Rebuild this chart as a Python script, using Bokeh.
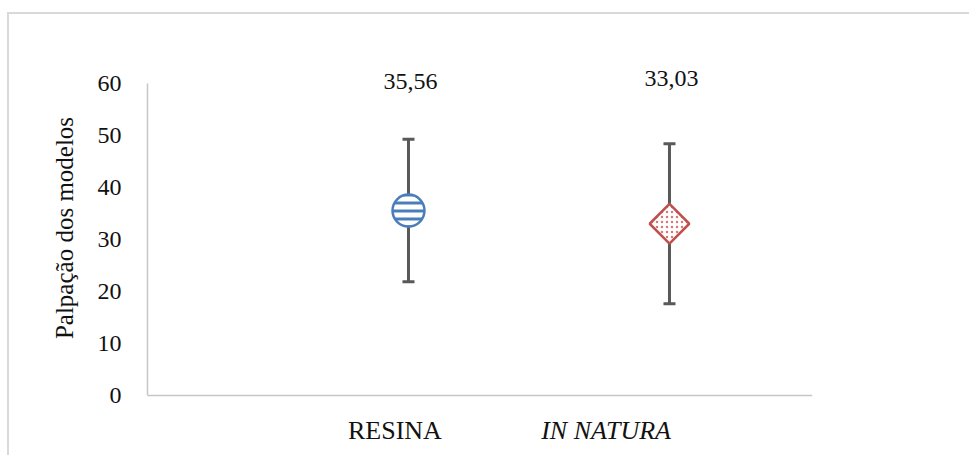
from math import pi

from bokeh.embed import file_html
from bokeh.models import ColumnDataSource, FixedTicker, Label, Range1d, TeeHead, Whisker
from bokeh.plotting import figure
from bokeh.resources import INLINE

# Data: mean palpation score per model type, with standard deviation
groups = ["RESINA", "IN NATURA"]
group_pos = [1, 2]
means = [35.56, 33.03]
sds = [13.7, 15.4]
y_ticks = [0, 10, 20, 30, 40, 50, 60]

FONT = "Liberation Serif"
AXIS_GRAY = "#c6c6c6"
TEXT = "#111111"

# The frame reaches above and below the 0-60 axis so the value labels and
# category names can sit inside it; the axes themselves are bounded.
p = figure(
    width=962,
    height=443,
    x_range=Range1d(0, 2.548),
    y_range=Range1d(-8.846, 73.27),
    output_backend="svg",
    toolbar_location=None,
    min_border_left=138,
    min_border_right=159,
    min_border_top=0,
    min_border_bottom=16,
    background_fill_color="white",
    border_fill_color="white",
    outline_line_color=None,
    margin=(12, 0, 0, 7),
    styles={"border-left": "2px solid #d9d9d9", "border-top": "2px solid #d9d9d9"},
)
p.grid.visible = False

# y axis
yax = p.yaxis[0]
yax.ticker = FixedTicker(ticks=y_ticks)
yax.bounds = (0, 60)
yax.axis_line_color = AXIS_GRAY
yax.axis_line_width = 1.5
yax.major_tick_line_color = None
yax.minor_tick_line_color = None
yax.major_label_standoff = 20
yax.major_label_text_font = FONT
yax.major_label_text_font_size = "24px"
yax.major_label_text_color = TEXT
yax.axis_label = "Palpação dos modelos"
yax.axis_label_text_font = FONT
yax.axis_label_text_font_size = "25px"
yax.axis_label_text_font_style = "normal"
yax.axis_label_text_color = TEXT
yax.axis_label_standoff = 17

# x axis: line at y = 0, names drawn as labels below it
xax = p.xaxis[0]
xax.ticker = FixedTicker(ticks=[])
xax.fixed_location = 0
xax.axis_line_color = AXIS_GRAY
xax.axis_line_width = 1.5
xax.major_tick_line_color = None
xax.minor_tick_line_color = None

lower = [m - s for m, s in zip(means, sds)]
upper = [m + s for m, s in zip(means, sds)]
src = ColumnDataSource(dict(x=group_pos, mean=means, lower=lower, upper=upper))

# error bars
head = TeeHead(size=12, line_color="#595959", line_width=3)
p.add_layout(Whisker(source=src, base="x", lower="lower", upper="upper",
                     dimension="height", line_color="#595959", line_width=3,
                     lower_head=head, upper_head=head, level="underlay"))

# RESINA: striped circle
p.scatter(x=[group_pos[0]], y=[means[0]], marker="circle", size=32,
          fill_color="white", line_color="#4a7ebb", line_width=2.5,
          hatch_pattern="horizontal_line", hatch_color="#4a7ebb",
          hatch_scale=8, hatch_weight=3)

# IN NATURA: dotted diamond
p.scatter(x=[group_pos[1]], y=[means[1]], marker="square", size=28, angle=pi / 4,
          fill_color="white", line_color="#c0504d", line_width=2.5,
          hatch_pattern="dot", hatch_color="#d47a78",
          hatch_scale=5, hatch_weight=3)

# mean value labels at the top
for x, m, ylab in zip(group_pos, means, [58.85, 59.42]):
    p.add_layout(Label(x=x, y=ylab, x_offset=2, y_offset=8,
                       text=f"{m:.2f}".replace(".", ","),
                       text_align="center", text_baseline="alphabetic",
                       text_font=FONT, text_font_size="24px", text_color=TEXT))

# category names below the axis
for name, xl, style in zip(groups, [0.948, 1.757], ["normal", "italic"]):
    p.add_layout(Label(x=xl, y=-8.27, y_offset=8, text=name, text_align="center",
                       text_baseline="alphabetic", text_font=FONT,
                       text_font_size="26px", text_font_style=style,
                       text_color=TEXT))

open("out.html", "w").write(file_html(p, INLINE))
